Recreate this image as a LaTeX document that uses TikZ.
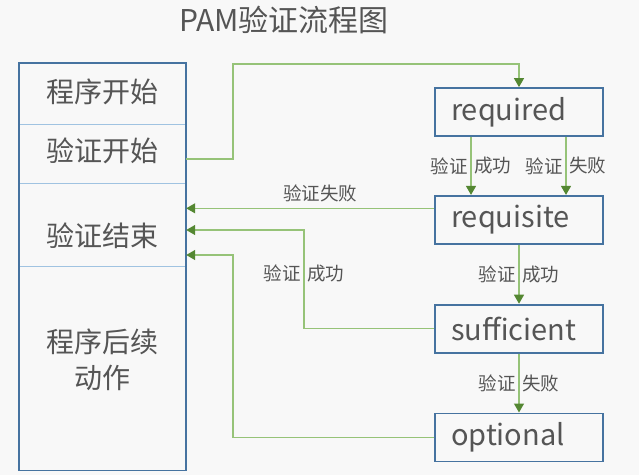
\documentclass[tikz,border=0pt]{standalone}
\usepackage{fontspec}
\setmainfont{Noto Sans CJK SC}
\usetikzlibrary{positioning,arrows.meta}
\definecolor{BoxBlue}{RGB}{70,115,160}
\definecolor{RuleBlue}{RGB}{160,195,225}
\definecolor{LineGreen}{RGB}{150,195,120}
\definecolor{TipGreen}{RGB}{84,135,50}
\definecolor{TextGray}{RGB}{85,85,85}
\definecolor{PaperGray}{RGB}{248,248,248}

\begin{document}
\begin{tikzpicture}[x=1pt,y=-1pt,
    section/.style={minimum width=167pt,inner sep=0pt},
    sectext/.style={font=\fontsize{28}{36}\selectfont,text=TextGray,align=center},
    stage/.style={draw=BoxBlue,line width=1.8pt,minimum height=48pt,inner xsep=16pt,text width=136pt,align=left,
      font=\fontsize{29}{34}\selectfont,text=TextGray},
    flow/.style={LineGreen,line width=1.3pt,-{Triangle[length=9pt,width=10pt,color=TipGreen,fill=TipGreen]}},
    note/.style={font=\fontsize{18.5}{21}\selectfont,text=TextGray,inner sep=2.5pt}
]

% Background
\fill[PaperGray] (0,0) rectangle (639,475);
\useasboundingbox (0,0) rectangle (639,475);

% Title
\node[font=\fontsize{30}{36}\selectfont,text=TextGray] (title) at (284,20) {PAM验证流程图};

% Left column: program sections
\node[section,minimum height=61pt,anchor=north] (s1) at (102.5,63) {};
\node[section,minimum height=59pt,below=0pt of s1] (s2) {};
\node[section,minimum height=82pt,below=0pt of s2] (s3) {};
\node[section,minimum height=204pt,below=0pt of s3] (s4) {};
\node[sectext] (t1) at ([yshift=2pt]s1.center) {程序开始};
\node[sectext] (t2) at ([yshift=3pt]s2.center) {验证开始};
\node[sectext] (t3) at ([yshift=-11pt]s3.center) {验证结束};
\node[sectext] (t4) at ([yshift=9pt]s4.center) {程序后续\\动作};

% Borders of the left column
\draw[RuleBlue,line width=1.3pt] (s1.south west) -- (s1.south east);
\draw[RuleBlue,line width=1.3pt] (s2.south west) -- (s2.south east);
\draw[RuleBlue,line width=1.3pt] (s3.south west) -- (s3.south east);
\draw[BoxBlue,line width=1.6pt] (s1.north west) rectangle (s4.south east);

% Right column: control flags
\node[stage] (required) at (519,112) {required};
\node[stage,below=58pt of required] (requisite) {requisite};
\node[stage,below=59pt of requisite] (sufficient) {sufficient};
\node[stage,below=59pt of sufficient] (optional) {optional};

% Bend points
\coordinate (go) at ([yshift=-5pt]s2.east);
\coordinate (topbend) at (233,64);
\coordinate (failout) at ([yshift=11.5pt]requisite.west);
\coordinate (sufbend) at (304,230);
\coordinate (optbend) at (233,255);

% Start of the check
\draw[flow] (go) -| (topbend) -| (required.north);

% required -> requisite
\draw[flow] ([xshift=-48pt]required.south) -- ([xshift=-48pt]requisite.north)
    node[note,left,midway] {验证} node[note,right,midway] {成功};
\draw[flow] ([xshift=47pt]required.south) -- ([xshift=47pt]requisite.north)
    node[note,left,midway] {验证} node[note,right,midway] {失败};

% requisite fails -> end
\draw[flow] (failout) -- (failout -| s3.east)
    node[note,above=3pt,pos=0.46] {验证失败};

% requisite -> sufficient -> optional
\draw[flow] (requisite) -- (sufficient)
    node[note,left,midway] {验证} node[note,right,midway] {成功};
\draw[flow] (sufficient) -- (optional)
    node[note,left,midway] {验证} node[note,right,midway] {失败};

% sufficient succeeds -> end
\draw[flow] (sufficient.west) -| node[note,left,pos=0.78] {验证} node[note,right,pos=0.78] {成功} (sufbend) -- (sufbend -| s3.east);

% optional -> end
\draw[flow] (optional.west) -| (optbend) -- (optbend -| s3.east);

\end{tikzpicture}
\end{document}
